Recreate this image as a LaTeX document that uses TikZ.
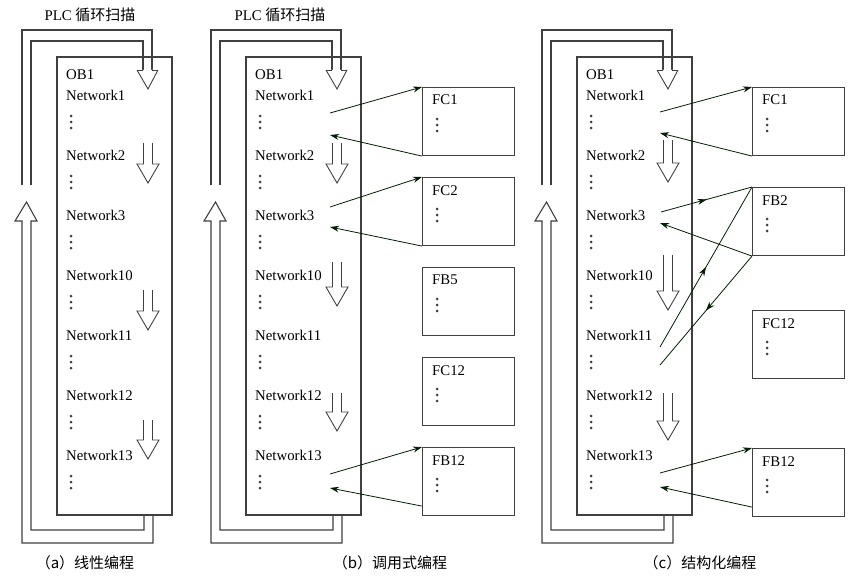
\documentclass[tikz,border=0pt]{standalone}
\usepackage{fontspec}
\setmainfont{Liberation Serif}
\newfontfamily\cjk{Noto Sans CJK SC}
\newfontfamily\netfont{Liberation Serif}
\usetikzlibrary{arrows.meta,decorations.markings}

\tikzset{
    line/.style={draw=black!75, line width=1.1pt},
    call/.style={draw=black!70!green!40!black, line width=0.8pt, -{Stealth[length=9pt,width=6pt]}},
    midcall/.style={draw=black!70!green!40!black, line width=0.8pt,
        postaction={decorate}, decoration={markings,
        mark=at position 0.5 with {\arrow{Stealth[length=9pt,width=6pt]}}}},
    blk/.style={line, rectangle, minimum width=92pt, minimum height=68pt, inner sep=0pt},
    lbl/.style={anchor=north west, inner sep=0pt},
    net/.style={anchor=west, inner sep=0pt},
}
\newcommand{\txt}{\netfont\fontsize{14.8}{17}\selectfont}
\newcommand{\captxt}{\cjk\fontsize{15}{17}\selectfont}

% three dots
\newcommand{\dotcol}[2]{%
    \foreach \d in {-6,0,6} \fill[black!75] (#1,#2+\d) circle (1.5pt);}

% hollow down arrow: centre x, top of stem, base of head
\newcommand{\downarr}[3]{%
    \draw[line, line width=0.9pt] (#1-4.5,#2) -- (#1-4.5,#3) -- (#1-11,#3) -- (#1,#3+19)
        -- (#1+11,#3) -- (#1+4.5,#3) -- (#1+4.5,#2);}

% scan loop around a panel at x offset
\newcommand{\scanloop}[1]{%
    \draw[line] (#1+57,57) rectangle (#1+172,515);
    \draw[line] (#1+143,70) -- (#1+143,41) -- (#1+31,41) -- (#1+31,185);
    \draw[line] (#1+152,70) -- (#1+152,30) -- (#1+22,30) -- (#1+22,185);
    \draw[line, line width=0.9pt, fill=white] (#1+137,70) -- (#1+148,89) -- (#1+158,70);
    \draw[line, line width=0.9pt] (#1+137,70) -- (#1+143,70) (#1+152,70) -- (#1+158,70);
    \draw[line] (#1+144,515) -- (#1+144,530) -- (#1+31,530) -- (#1+31,221)
        -- (#1+37,221) -- (#1+26.5,202) -- (#1+15,221) -- (#1+22,221)
        -- (#1+22,543) -- (#1+153,543) -- (#1+153,515);
    \node[lbl] at (#1+66,70) {\txt OB1};
    \foreach \n [count=\i from 0] in {1,2,3,10,11,12,13} {
        \node[net] at (#1+66,95+60*\i) {\txt Network\n};
        \dotcol{#1+71}{122+60*\i}
    }
}

\begin{document}
\begin{tikzpicture}[x=1pt, y=-1pt]
    \useasboundingbox (0,0) rectangle (861,575);

    % (a) linear
    \scanloop{0}
    \downarr{148}{143}{164}
    \downarr{148}{290}{311}
    \downarr{148}{420}{440}
    \node (ttla) at (90,15) {\txt PLC {\captxt 循环扫描}};
    \node (capa) at (85,563) {\captxt （a）线性编程};

    % (b) called
    \scanloop{189}
    \downarr{337}{143}{164}
    \downarr{337}{262}{287}
    \downarr{337}{393}{412}
    \node (ttlb) at (280,15) {\txt PLC {\captxt 循环扫描}};
    \node (capb) at (390,563) {\captxt （b）调用式编程};

    \foreach \nm/\y in {FC1/87,FC2/177,FB5/267,FC12/357,FB12/447} {
        \node[blk, anchor=north west] (b-\nm) at (422,\y) {};
        \node[lbl] at (432,\y+8) {\txt \nm};
        \dotcol{437}{\y+38}
    }
    \coordinate (b1o) at (330,113); \coordinate (b1i) at (330,135);
    \coordinate (b2o) at (330,207); \coordinate (b2i) at (330,227);
    \coordinate (b3o) at (330,474); \coordinate (b3i) at (330,488);
    \draw[call] (b1o) -- (b-FC1.north west);
    \draw[call] (b-FC1.south west) -- (b1i);
    \draw[call] (b2o) -- (b-FC2.north west);
    \draw[call] (b-FC2.south west) -- (b2i);
    \draw[call] (b3o) -- (b-FB12.north west);
    \draw[call] ([yshift=10pt]b-FB12.south west) -- (b3i);

    % (c) structured
    \scanloop{520}
    \downarr{668}{140}{163}
    \downarr{668}{255}{291}
    \downarr{668}{393}{421}
    \node (capc) at (700,563) {\captxt （c）结构化编程};

    \foreach \nm/\y in {FC1/87,FB2/187,FC12/310,FB12/448} {
        \node[blk, anchor=north west] (c-\nm) at (752,\y) {};
        \node[lbl] at (762,\y+8) {\txt \nm};
        \dotcol{767}{\y+38}
    }
    \coordinate (c1o) at (660,112); \coordinate (c1i) at (660,133);
    \coordinate (c2o) at (661,212); \coordinate (c2i) at (660,223);
    \coordinate (c3o) at (660,347); \coordinate (c3i) at (660,365);
    \coordinate (c4o) at (660,473); \coordinate (c4i) at (660,487);
    \draw[call] (c1o) -- (c-FC1.north west);
    \draw[call] (c-FC1.south west) -- (c1i);
    \draw[midcall] (c2o) -- (c-FB2.north west);
    \draw[call] (c-FB2.south west) -- (c2i);
    \draw[midcall] (c3o) -- (c-FB2.north west);
    \draw[midcall] (c-FB2.south west) -- (c3i);
    \draw[call] (c4o) -- (c-FB12.north west);
    \draw[call] ([yshift=10pt]c-FB12.south west) -- (c4i);
\end{tikzpicture}
\end{document}
